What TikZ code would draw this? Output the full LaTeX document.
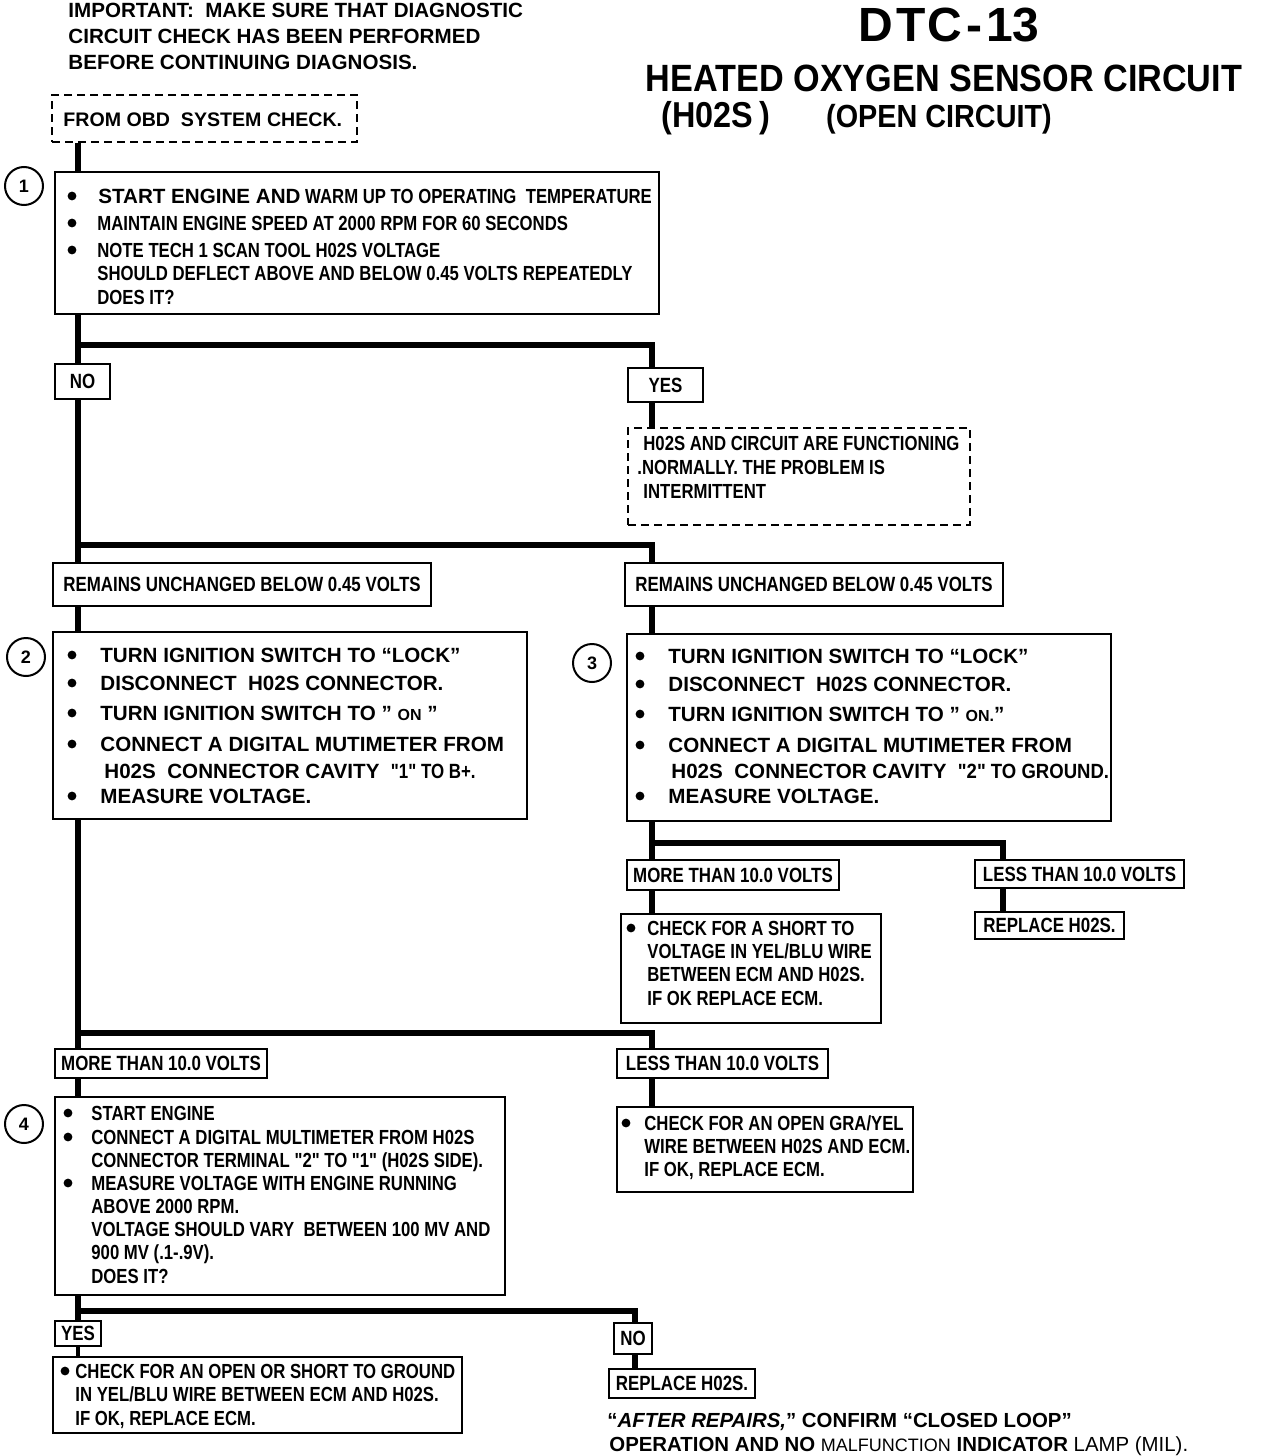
\documentclass[tikz,border=0pt]{standalone}
\usepackage{fontspec}
\setmainfont{Liberation Sans}
\newfontfamily\condfont{Liberation Sans}[FakeStretch=0.82]
\newfontfamily\headfont{Liberation Sans}[FakeStretch=0.9]
\usetikzlibrary{fit,positioning}

\begin{document}
\begin{tikzpicture}[x=0.5pt,y=-0.5pt]
\tikzstyle{box}=[draw,line width=1.3pt,inner sep=0pt]
\tikzstyle{dbox}=[draw,line width=1.1pt,dash pattern=on 4pt off 2.5pt,inner sep=0pt]
\tikzstyle{flow}=[line width=2.6pt]
\tikzstyle{tag}=[inner sep=0pt,text height=7.2pt,text depth=0pt,font=\condfont\bfseries\fontsize{10.3}{12}\selectfont]
\tikzstyle{txt}=[anchor=west,inner sep=0pt,text height=7.2pt,text depth=0pt,font=\condfont\bfseries\fontsize{10.2}{12}\selectfont]
\tikzstyle{wtxt}=[anchor=west,inner sep=0pt,text height=7.4pt,text depth=0pt,font=\bfseries\fontsize{10.3}{12}\selectfont]
\tikzstyle{dot}=[circle,fill,inner sep=0pt,minimum size=4.4pt]
\tikzstyle{num}=[circle,draw,line width=1pt,minimum size=19pt,inner sep=0pt,font=\bfseries\fontsize{9}{10}\selectfont]

\useasboundingbox (0,0) rectangle (1264,1456);

% heading
\node[wtxt] (imp1) at (68,10) {IMPORTANT:\ \ MAKE SURE THAT DIAGNOSTIC};
\node[wtxt] (imp2) at (68,36) {CIRCUIT CHECK HAS BEEN PERFORMED};
\node[wtxt] (imp3) at (68,62) {BEFORE CONTINUING DIAGNOSIS.};
\node[font=\bfseries\fontsize{24}{26}\selectfont] (dtc) at (949,25) {D\kern1.5pt T\kern1pt C\kern2pt-\kern2pt 13};
\node[inner sep=1pt,font=\headfont\bfseries\fontsize{19}{21}\selectfont] (ttl) at (944,78) {HEATED OXYGEN SENSOR CIRCUIT};
\node[inner sep=1pt,font=\headfont\bfseries\fontsize{18}{20}\selectfont] (hos) at (716,118) {(H02S\,)};
\node[inner sep=1pt,font=\headfont\bfseries\fontsize{16}{18}\selectfont] (opc) at (939,119) {(OPEN CIRCUIT)};

% start
\node[dbox,fit={(52,95) (357,142)}] (obd) {};
\node[wtxt,font=\bfseries\fontsize{9.8}{11}\selectfont] (obdt) at (63,119) {FROM OBD\ \ SYSTEM CHECK.};
\coordinate (tx) at (78,0);
\coordinate (rx) at (652,0);
\coordinate (fx) at (1003,0);
\coordinate (nx) at (635,0);

% step 1
\node[num] (n1) at (24,186) {1};
\node[box,fit={(55,172) (659,314)}] (b1) {};
\foreach \y [count=\i] in {196,223,250} \node[dot] (b1d\i) at (72,\y) {};
\node[txt] (b1t1) at (98,196) {{\normalfont\bfseries\fontsize{10.3}{12}\selectfont START ENGINE AND} WARM UP TO OPERATING\ \ TEMPERATURE};
\foreach \y/\t [count=\i from 2] in {223/{MAINTAIN ENGINE SPEED AT 2000 RPM FOR 60 SECONDS},
  250/{NOTE TECH 1 SCAN TOOL H02S VOLTAGE},
  273/{SHOULD DEFLECT ABOVE AND BELOW 0.45 VOLTS REPEATEDLY},
  297/{DOES IT?}}
  \node[txt] (b1t\i) at (97,\y) {\t};

\node[box,fit={(55,364) (110,399)}] (no1) {};
\node[tag] (no1t) at (no1) {NO};
\node[box,fit={(628,368) (703,402)}] (yes1) {};
\node[tag] (yes1t) at (yes1) {YES};
\node[dbox,fit={(628,428) (970,525)}] (ok1) {};
\node[txt] (ok1a) at (643,443) {H02S AND CIRCUIT ARE FUNCTIONING};
\node[txt] (ok1b) at (637,467) {.NORMALLY. THE PROBLEM IS};
\node[txt] (ok1c) at (643,491) {INTERMITTENT};

\draw[flow] (obd.south -| tx) -- (b1.north -| tx);
\draw[flow] (b1.south -| tx) -- (no1.north -| tx);
\coordinate (j1) at (78,345);
\draw[flow] (j1) -| (yes1.north -| rx);
\draw[flow] (yes1.south -| rx) -- (ok1.north -| rx);

% steps 2 and 3
\node[box,fit={(53,563) (431,606)}] (rem1) {};
\node[tag] (rem1t) at (rem1) {REMAINS UNCHANGED BELOW 0.45 VOLTS};
\node[box,fit={(625,563) (1003,606)}] (rem2) {};
\node[tag] (rem2t) at (rem2) {REMAINS UNCHANGED BELOW 0.45 VOLTS};
\draw[flow] (no1.south -| tx) -- (rem1.north -| tx);
\coordinate (j2) at (78,545);
\draw[flow] (j2) -| (rem2.north -| rx);

\node[num] (n2) at (26,657) {2};
\node[box,fit={(53,632) (527,819)}] (b2) {};
\foreach \y [count=\i] in {655,683,713,744,796} \node[dot] (b2d\i) at (72,\y) {};
\foreach \y/\t [count=\i] in {655/{TURN IGNITION SWITCH TO “LOCK”},
  683/{DISCONNECT\ \ H02S CONNECTOR.},
  713/{TURN IGNITION SWITCH TO ” {\fontsize{8}{9}\selectfont ON} ”},
  744/{CONNECT A DIGITAL MUTIMETER FROM},
  796/{MEASURE VOLTAGE.}}
  \node[wtxt] (b2t\i) at (100,\y) {\t};
\node[wtxt] (b2t6) at (104,771) {H02S\ \ CONNECTOR CAVITY\ \ {\condfont"1" TO B+.}};

\node[num] (n3) at (592,663) {3};
\node[box,fit={(627,634) (1111,821)}] (b3) {};
\foreach \y [count=\i] in {656,684,714,745,796} \node[dot] (b3d\i) at (640,\y) {};
\foreach \y/\t [count=\i] in {656/{TURN IGNITION SWITCH TO “LOCK”},
  684/{DISCONNECT\ \ H02S CONNECTOR.},
  714/{TURN IGNITION SWITCH TO ” {\fontsize{8}{9}\selectfont ON.}”},
  745/{CONNECT A DIGITAL MUTIMETER FROM},
  796/{MEASURE VOLTAGE.}}
  \node[wtxt] (b3t\i) at (668,\y) {\t};
\node[wtxt] (b3t6) at (671,771) {H02S\ \ CONNECTOR CAVITY\ \ {\headfont"2" TO GROUND.}};
\draw[flow] (rem1.south -| tx) -- (b2.north -| tx);
\draw[flow] (rem2.south -| rx) -- (b3.north -| rx);

% after step 3
\node[box,fit={(627,860) (839,890)}] (more1) {};
\node[tag] (more1t) at (more1) {MORE THAN 10.0 VOLTS};
\node[box,fit={(975,860) (1184,888)}] (less1) {};
\node[tag] (less1t) at (less1) {LESS THAN 10.0 VOLTS};
\node[box,fit={(621,914) (881,1023)}] (sh1) {};
\node[dot] (sh1d) at (631,928) {};
\foreach \y/\t [count=\i] in {928/{CHECK FOR A SHORT TO},951/{VOLTAGE IN YEL/BLU WIRE},
  974/{BETWEEN ECM AND H02S.},998/{IF OK REPLACE ECM.}}
  \node[txt] (sh1t\i) at (647,\y) {\t};
\node[box,fit={(975,912) (1124,939)}] (rep1) {};
\node[tag] (rep1t) at (rep1) {REPLACE H02S.};
\draw[flow] (b3.south -| rx) -- (more1.north -| rx);
\coordinate (j3) at (652,843);
\draw[flow] (j3) -| (less1.north -| fx);
\draw[flow] (more1.south -| rx) -- (sh1.north -| rx);
\draw[flow] (less1.south -| fx) -- (rep1.north -| fx);

% after step 2
\node[box,fit={(55,1049) (267,1078)}] (more2) {};
\node[tag] (more2t) at (more2) {MORE THAN 10.0 VOLTS};
\node[box,fit={(617,1049) (828,1078)}] (less2) {};
\node[tag] (less2t) at (less2) {LESS THAN 10.0 VOLTS};
\node[box,fit={(617,1107) (913,1192)}] (op1) {};
\node[dot] (op1d) at (626,1123) {};
\foreach \y/\t [count=\i] in {1123/{CHECK FOR AN OPEN GRA/YEL},1146/{WIRE BETWEEN H02S AND ECM.},
  1169/{IF OK, REPLACE ECM.}}
  \node[txt] (op1t\i) at (644,\y) {\t};
\draw[flow] (b2.south -| tx) -- (more2.north -| tx);
\coordinate (j4) at (78,1033);
\draw[flow] (j4) -| (less2.north -| rx);
\draw[flow] (less2.south -| rx) -- (op1.north -| rx);

% step 4
\node[num] (n4) at (24,1124) {4};
\node[box,fit={(55,1097) (505,1295)}] (b4) {};
\foreach \y [count=\i] in {1113,1137,1183} \node[dot] (b4d\i) at (68,\y) {};
\foreach \y/\t [count=\i] in {1113/{START ENGINE},
  1137/{CONNECT A DIGITAL MULTIMETER FROM H02S},
  1160/{CONNECTOR TERMINAL "2" TO "1" (H02S SIDE).},
  1183/{MEASURE VOLTAGE WITH ENGINE RUNNING},
  1206/{ABOVE 2000 RPM.},
  1229/{VOLTAGE SHOULD VARY\ \ BETWEEN 100 MV AND},
  1252/{900 MV (.1-.9V).},
  1276/{DOES IT?}}
  \node[txt] (b4t\i) at (91,\y) {\t};
\draw[flow] (more2.south -| tx) -- (b4.north -| tx);

% last answers
\node[box,fit={(55,1321) (101,1346)}] (yes2) {};
\node[tag] (yes2t) at (yes2) {YES};
\node[box,fit={(614,1323) (652,1354)}] (no2) {};
\node[tag] (no2t) at (no2) {NO};
\node[box,fit={(53,1357) (462,1433)}] (gnd1) {};
\node[dot] (gnd1d) at (65,1371) {};
\foreach \y/\t [count=\i] in {1371/{CHECK FOR AN OPEN OR SHORT TO GROUND},
  1394/{IN YEL/BLU WIRE BETWEEN ECM AND H02S.},1418/{IF OK, REPLACE ECM.}}
  \node[txt] (gnd1t\i) at (75,\y) {\t};
\node[box,fit={(609,1369) (755,1398)}] (rep2) {};
\node[tag] (rep2t) at (rep2) {REPLACE H02S.};
\draw[flow] (b4.south -| tx) -- (yes2.north -| tx);
\coordinate (j5) at (78,1311);
\draw[flow] (j5) -| (no2.north -| nx);
\draw[flow,line width=1.8pt] (yes2.south -| tx) -- (gnd1.north -| tx);
\draw[flow] (no2.south -| nx) -- (rep2.north -| nx);

% note
\node[wtxt,font=\bfseries\fontsize{10.2}{12}\selectfont] (ar1) at (607,1420) {“\textit{AFTER REPAIRS,}” CONFIRM “CLOSED LOOP”};
\node[wtxt,font=\bfseries\fontsize{10.2}{12}\selectfont] (ar2) at (609,1444) {OPERATION AND NO {\mdseries\fontsize{9}{10}\selectfont MALFUNCTION} INDICATOR {\mdseries LAMP (MIL).}};
\end{tikzpicture}
\end{document}
